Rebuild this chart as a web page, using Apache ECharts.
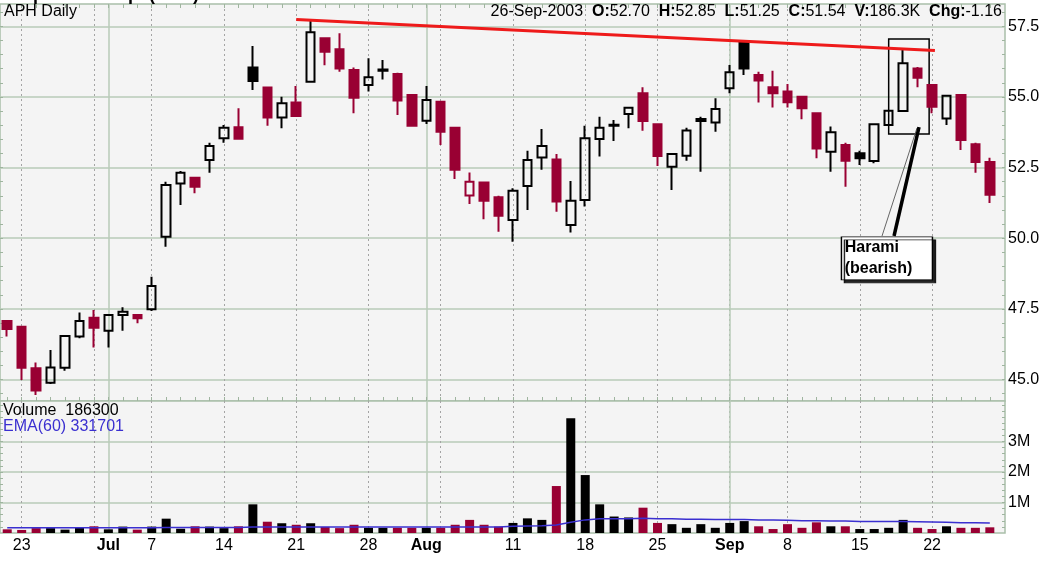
<!DOCTYPE html>
<html><head><meta charset="utf-8">
<script src="https://cdn.jsdelivr.net/npm/echarts/dist/echarts.min.js"></script>
<style>html,body{margin:0;padding:0;background:#fff}#c{width:1045px;height:563px}</style>
</head><body><div id="c"></div>
<script>
const dates = ['2003-06-20','2003-06-23','2003-06-24','2003-06-25','2003-06-26','2003-06-27',
 '2003-06-30','2003-07-01','2003-07-02','2003-07-03',
 '2003-07-07','2003-07-08','2003-07-09','2003-07-10','2003-07-11',
 '2003-07-14','2003-07-15','2003-07-16','2003-07-17','2003-07-18',
 '2003-07-21','2003-07-22','2003-07-23','2003-07-24','2003-07-25',
 '2003-07-28','2003-07-29','2003-07-30','2003-07-31','2003-08-01',
 '2003-08-04','2003-08-05','2003-08-06','2003-08-07','2003-08-08',
 '2003-08-11','2003-08-12','2003-08-13','2003-08-14','2003-08-15',
 '2003-08-18','2003-08-19','2003-08-20','2003-08-21','2003-08-22',
 '2003-08-25','2003-08-26','2003-08-27','2003-08-28','2003-08-29',
 '2003-09-02','2003-09-03','2003-09-04','2003-09-05',
 '2003-09-08','2003-09-09','2003-09-10','2003-09-11','2003-09-12',
 '2003-09-15','2003-09-16','2003-09-17','2003-09-18','2003-09-19',
 '2003-09-22','2003-09-23','2003-09-24','2003-09-25','2003-09-26'];
const opens = [47.07,46.87,45.40,44.89,45.42,46.52,47.19,46.73,47.28,47.28,
 47.49,50.05,51.94,52.14,52.77,53.54,53.93,56.04,55.33,54.27,
 54.80,55.54,57.08,56.69,55.95,55.42,55.93,55.81,55.07,54.16,
 54.83,53.91,51.51,51.97,51.45,50.65,51.85,52.86,52.79,50.47,
 51.35,53.51,53.98,54.40,55.13,54.03,52.53,52.92,54.22,54.10,
 55.31,56.92,55.78,55.34,55.19,55.01,54.42,53.06,53.30,53.01,
 52.73,54.01,54.50,56.01,55.42,54.24,55.07,53.33,52.70];
const highs = [47.10,46.90,45.60,46.05,46.56,47.37,47.46,47.30,47.56,47.32,
 48.64,52.00,52.38,52.18,53.38,54.01,54.60,56.80,55.35,55.01,
 55.39,57.70,57.10,57.25,56.04,56.37,56.31,55.86,55.10,55.39,
 54.85,53.93,52.33,51.99,51.50,51.77,53.10,53.87,52.98,52.03,
 53.98,54.30,54.18,54.65,55.34,54.05,53.00,53.91,54.30,54.95,
 56.13,56.95,55.89,55.93,55.46,55.03,54.44,53.95,53.38,53.10,
 54.05,54.53,56.66,56.06,55.45,55.08,55.10,53.38,52.85];
const lows = [46.52,44.98,44.45,44.84,45.31,46.46,46.13,46.13,46.73,46.99,
 47.43,49.70,51.18,51.59,52.32,53.38,53.50,55.25,53.98,53.89,
 54.31,55.50,56.12,55.89,54.42,55.19,55.62,54.36,53.96,54.04,
 53.30,52.10,51.21,50.67,50.23,49.88,51.00,52.42,50.94,50.20,
 51.12,52.89,53.44,53.89,53.80,52.56,51.71,52.74,52.35,53.77,
 55.13,55.78,54.80,54.63,54.63,54.21,52.83,52.35,51.82,52.59,
 52.65,53.98,54.48,55.34,54.42,54.01,53.12,52.32,51.25];
const closes = [46.79,45.42,44.61,45.43,46.54,47.07,46.83,47.28,47.40,47.17,
 48.31,51.88,52.32,51.82,53.26,53.91,53.52,55.56,54.27,54.78,
 54.33,57.29,56.60,56.01,54.97,55.70,55.97,54.87,53.98,54.89,
 53.77,52.42,52.00,51.33,50.80,51.68,52.77,53.26,51.30,51.33,
 53.54,53.91,54.02,54.62,54.15,52.91,52.98,53.81,54.15,54.57,
 55.87,56.01,55.58,55.13,54.81,54.60,53.18,53.75,52.74,52.83,
 54.03,54.51,56.19,55.68,54.65,55.04,53.48,52.70,51.54];
const volumes = [120000,100000,160000,160000,110000,170000,220000,120000,210000,110000,
 210000,470000,140000,220000,210000,160000,220000,940000,370000,320000,
 270000,320000,200000,160000,270000,170000,170000,170000,170000,170000,
 170000,270000,430000,270000,210000,330000,480000,430000,1540000,3760000,
 1900000,940000,540000,510000,830000,330000,290000,170000,290000,170000,
 330000,390000,220000,130000,290000,170000,350000,220000,220000,130000,
 130000,170000,430000,170000,130000,220000,170000,170000,186300];
const ema60 = [170000,170000,170000,170000,170000,170000,170000,170000,170000,170000,
 170000,180000,180000,180000,180000,180000,180000,200000,200000,200000,
 200000,200000,200000,200000,200000,200000,200000,200000,200000,200000,
 200000,200000,200000,200000,200000,220000,230000,240000,260000,350000,
 430000,470000,470000,470000,480000,470000,470000,450000,450000,440000,
 440000,440000,430000,430000,420000,400000,400000,390000,390000,380000,
 380000,380000,380000,370000,360000,350000,340000,340000,331701];
const axisLabelIdx = [1,7,10,15,20,25,29,35,40,45,50,54,59,64];
const axisLabelText = ['23','Jul','7','14','21','28','Aug','11','18','25','Sep','8','15','22'];
const monthIdx = [7,29,50];
const weekIdx = [1,6,10,15,20,25,30,35,40,45,50,54,59,64];
const priceTicks = [45,47.5,50,52.5,55,57.5];
const priceMinorTicks = [44.5,45,45.5,46,46.5,47,47.5,48,48.5,49,49.5,50,50.5,51,51.5,52,52.5,53,53.5,54,54.5,55,55.5,56,56.5,57,57.5,58];
const volumeTicks = [1000000,2000000,3000000];
const volumeMinorTicks = [200000,400000,600000,800000,1000000,1200000,1400000,1600000,1800000,2000000,2200000,2400000,2600000,2800000,3000000,3200000,3400000,3600000,3800000,4000000,4200000];
const trendLine = [[20,57.74],[64.2,56.64]];
const haramiBox = [[61,57.05],[63.8,53.69]];
const haramiLabelAt = [60.88,49.29];
const arrowThin = [[60.54,50.08],[62.96,53.90]];
const arrowThick = [[61.37,50.08],[63.10,53.93]];

const RED = '#990033', BLK = '#000000';
const FONT = '"Liberation Sans", Arial, sans-serif';
const GRIDC = '#b9cbb9', DOTC = '#a4a4a4', BORDERC = '#a9bfa9', TICKC = '#9fb59f';
const XMIN = -0.5, XMAX = 69.05;
const dayIdx = dates.map((d, i) => i);
const upColor = i => (i > 0 && closes[i] >= closes[i - 1]) ? BLK : RED;

const candleData = dates.map((d, i) => {
  const col = upColor(i);
  const fill = closes[i] > opens[i] ? 'rgba(0,0,0,0)' : col;
  return {value: [i, opens[i], closes[i], lows[i], highs[i]],
    itemStyle: {color: fill, color0: fill, borderColor: col, borderColor0: col}};
});
const volData = dates.map((d, i) => ({value: [i, volumes[i]], itemStyle: {color: upColor(i)}}));
const emaData = dates.map((d, i) => [i, ema60[i]]);

function xa(grid, extra) {
  return Object.assign({type: 'value', gridIndex: grid, min: XMIN, max: XMAX, position: 'bottom',
    axisLine: {show: false, onZero: false}, axisLabel: {show: false}, axisTick: {show: false}, splitLine: {show: false}}, extra);
}
const xAxes = [
  xa(0, {axisTick: {show: true, inside: true, length: 4, customValues: dayIdx, lineStyle: {color: TICKC}}}),
  xa(0, {position: 'top', axisTick: {show: true, inside: true, length: 4, customValues: dayIdx, lineStyle: {color: TICKC}}}),
  xa(0, {axisTick: {show: false, customValues: weekIdx}, splitLine: {show: true, lineStyle: {color: DOTC, type: [2, 3], width: 1}}}),
  xa(0, {axisTick: {show: false, customValues: monthIdx}, splitLine: {show: true, lineStyle: {color: GRIDC, width: 1.5}}}),
  xa(1, {axisTick: {show: false, customValues: axisLabelIdx},
    axisLabel: {show: true, customValues: axisLabelIdx, margin: 5, color: '#000', fontSize: 16, fontFamily: FONT,
      formatter: v => { const k = axisLabelIdx.indexOf(Math.round(v)); if (k < 0) return '';
        const t = axisLabelText[k]; return monthIdx.indexOf(axisLabelIdx[k]) >= 0 ? '{m|' + t + '}' : t; },
      rich: {m: {fontWeight: 'bold', fontSize: 16, fontFamily: FONT, color: '#000'}}}}),
  xa(1, {axisTick: {show: false, customValues: weekIdx}, splitLine: {show: true, lineStyle: {color: DOTC, type: [2, 3], width: 1}}}),
  xa(1, {axisTick: {show: false, customValues: monthIdx}, splitLine: {show: true, lineStyle: {color: GRIDC, width: 1.5}}})
];
const PMIN = 44.241, PMAX = 58.289, VMAX = 4328000;
function ya(grid, pos, min, max, extra) {
  return Object.assign({type: 'value', gridIndex: grid, position: pos, min: min, max: max,
    axisLine: {show: false, onZero: false}, axisLabel: {show: false}, splitLine: {show: false}}, extra);
}
const yAxes = [
  ya(0, 'right', PMIN, PMAX, {axisTick: {show: false, customValues: priceTicks},
    axisLabel: {show: true, customValues: priceTicks, margin: 3, color: '#000', fontSize: 16, fontFamily: FONT, formatter: v => v.toFixed(1)},
    splitLine: {show: true, lineStyle: {color: GRIDC, width: 1.5}}}),
  ya(0, 'right', PMIN, PMAX, {axisTick: {show: true, inside: true, length: 3, customValues: priceMinorTicks, lineStyle: {color: TICKC}}}),
  ya(1, 'right', 0, VMAX, {axisTick: {show: false, customValues: volumeTicks},
    axisLabel: {show: true, customValues: volumeTicks, margin: 3, color: '#000', fontSize: 16, fontFamily: FONT, formatter: v => (v / 1e6) + 'M'},
    splitLine: {show: true, lineStyle: {color: GRIDC, width: 1.5}}}),
  ya(1, 'right', 0, VMAX, {axisTick: {show: true, inside: true, length: 3, customValues: volumeMinorTicks, lineStyle: {color: TICKC}}}),
  ya(0, 'left', PMIN, PMAX, {axisTick: {show: true, inside: true, length: 3, customValues: priceMinorTicks, lineStyle: {color: TICKC}}}),
  ya(1, 'left', 0, VMAX, {axisTick: {show: true, inside: true, length: 3, customValues: volumeMinorTicks, lineStyle: {color: TICKC}}})
];

const last = dates.length - 1;
const mon = ['Jan','Feb','Mar','Apr','May','Jun','Jul','Aug','Sep','Oct','Nov','Dec'];
const dp = dates[last].split('-');
const dateStr = dp[2] + '-' + mon[+dp[1] - 1] + '-' + dp[0];
const headerText = dateStr + '  {b|O:}' + opens[last].toFixed(2) + '  {b|H:}' + highs[last].toFixed(2) +
  '  {b|L:}' + lows[last].toFixed(2) + '  {b|C:}' + closes[last].toFixed(2) +
  '  {b|V:}' + (volumes[last] / 1000).toFixed(1) + 'K  {b|Chg:}' + (closes[last] - closes[last - 1]).toFixed(2);

const chart = echarts.init(document.getElementById('c'), null, {renderer: 'canvas'});
chart.setOption({
  animation: false,
  backgroundColor: '#ffffff',
  grid: [
    {left: 0, right: 40, top: 4, height: 397, show: true, backgroundColor: '#f4f4f4', borderColor: BORDERC, borderWidth: 1.5},
    {left: 0, right: 40, top: 401, height: 132, show: true, backgroundColor: '#f4f4f4', borderColor: BORDERC, borderWidth: 1.5}
  ],
  xAxis: xAxes,
  yAxis: yAxes,
  series: [
    {type: 'candlestick', name: 'APH', xAxisIndex: 0, yAxisIndex: 0, data: candleData, barWidth: 9, z: 3,
      itemStyle: {borderWidth: 2}},
    {type: 'line', name: 'Trend', xAxisIndex: 0, yAxisIndex: 0, data: trendLine, showSymbol: false, z: 5, silent: true,
      lineStyle: {color: '#ee1a1a', width: 3},
      markArea: {silent: true, itemStyle: {color: 'rgba(0,0,0,0)', borderColor: '#000', borderWidth: 1.5},
        data: [[{coord: haramiBox[0]}, {coord: haramiBox[1]}]]},
      markLine: {silent: true, symbol: ['none', 'none'], label: {show: false},
        data: [
          [{coord: arrowThin[0], lineStyle: {color: '#666', width: 1, type: 'solid'}}, {coord: arrowThin[1]}],
          [{coord: arrowThick[0], lineStyle: {color: '#000', width: 3.5, type: 'solid'}}, {coord: arrowThick[1]}]
        ]},
      markPoint: {silent: true, data: [{coord: haramiLabelAt, symbol: 'rect', symbolSize: [91, 43],
        itemStyle: {color: '#ffffff', borderColor: '#000', borderWidth: 1, shadowColor: 'rgba(0,0,0,0.85)', shadowBlur: 0, shadowOffsetX: 3, shadowOffsetY: 3},
        label: {show: true, formatter: 'Harami\n(bearish)', position: [4, 1], align: 'left', verticalAlign: 'top',
          fontSize: 16, fontWeight: 'bold', fontFamily: FONT, color: '#000', lineHeight: 21}}]}},
    {type: 'bar', name: 'Volume', xAxisIndex: 4, yAxisIndex: 2, data: volData, barWidth: 9, z: 3},
    {type: 'line', name: 'EMA(60)', xAxisIndex: 4, yAxisIndex: 2, data: emaData, showSymbol: false, z: 4,
      lineStyle: {color: '#3a2fd0', width: 1.5}}
  ],
  graphic: [
    {type: 'text', left: 4, top: -14, z: 100, style: {text: 'Amphenol Corp. (APH)', font: 'bold 18px ' + FONT, fill: '#000'}},
    {type: 'text', left: 4, top: 4, z: 100, style: {text: 'APH Daily', font: '16px ' + FONT, fill: '#000'}},
    {type: 'text', right: 43, top: 4, z: 100, style: {text: headerText, fontSize: 16, fontFamily: FONT, fill: '#000',
      rich: {b: {fontWeight: 'bold', fontSize: 16, fontFamily: FONT, fill: '#000'}}}},
    {type: 'text', left: 3, top: 403, z: 100, style: {text: 'Volume  ' + volumes[last], font: '16px ' + FONT, fill: '#000'}},
    {type: 'text', left: 3, top: 419, z: 100, style: {text: 'EMA(60) ' + ema60[last], font: '16px ' + FONT, fill: '#3a2fd0'}}
  ]
});
</script></body></html>
